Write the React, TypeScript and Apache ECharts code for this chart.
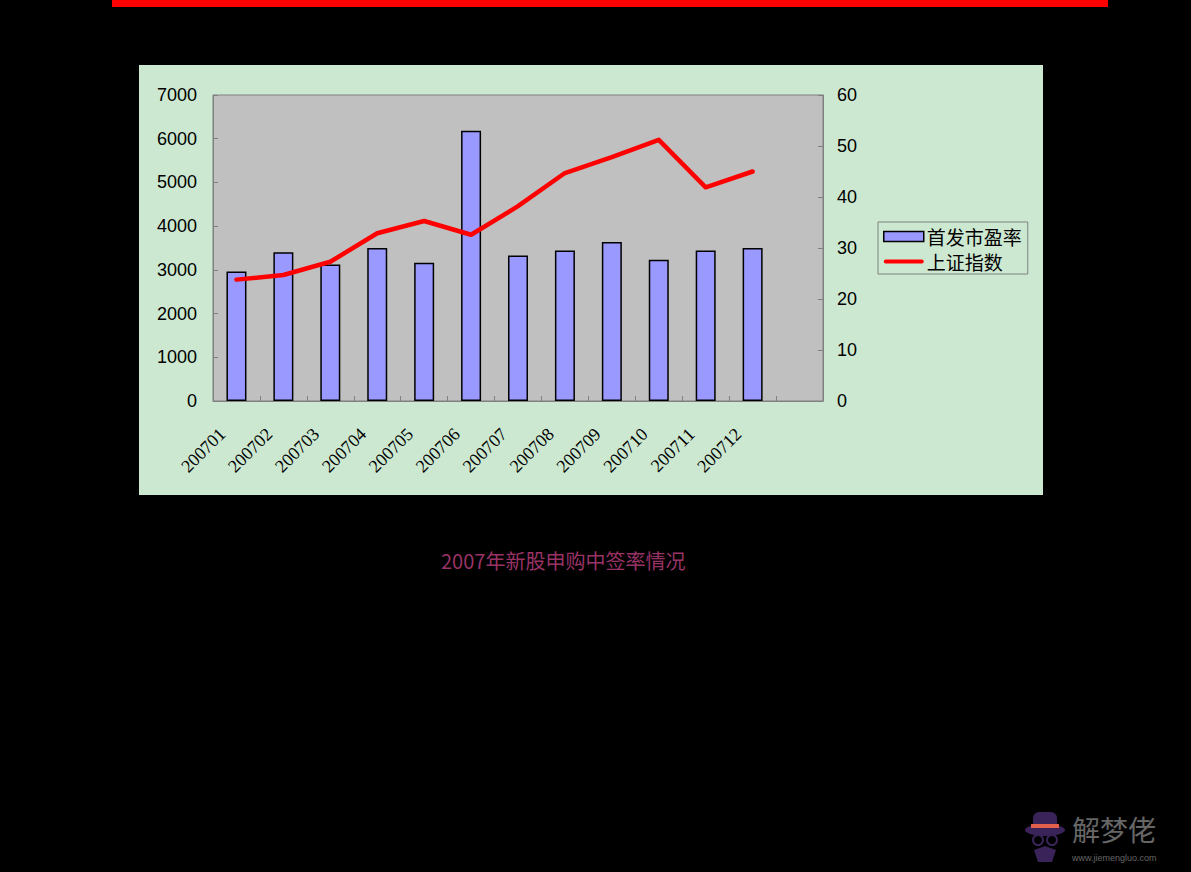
import React, { useEffect, useRef } from "react";
import * as echarts from "echarts";

const categories = ["200701", "200702", "200703", "200704", "200705", "200706", "200707", "200708", "200709", "200710", "200711", "200712", ""];
const peValues = [2960, 3400, 3120, 3500, 3160, 6180, 3330, 3440, 3640, 3230, 3440, 3500];
const indexValues = [23.8, 24.7, 27.3, 32.9, 35.3, 32.6, 38.2, 44.7, 47.8, 51.2, 41.9, 45.0];
const leftTicks = { min: 0, max: 7000, interval: 1000 };
const rightTicks = { min: 0, max: 60, interval: 10 };
const seriesNames = ["首发市盈率", "上证指数"];
const title = "2007年新股申购中签率情况";
const brand = "解梦佬";
const brandUrl = "www.jiemengluo.com";

export default function App() {
  const ref = useRef<HTMLDivElement>(null);
  useEffect(() => {
    document.body.style.margin = "0";
    document.body.style.background = "#000";
    const chart = echarts.init(ref.current!, null, { renderer: "svg" });
    chart.setOption({
      animation: false,
      backgroundColor: "#000000",
      graphic: [
        { type: "rect", shape: { x: 112, y: 0, width: 996, height: 7 }, style: { fill: "#FF0000" }, z: -10 },
        { type: "rect", shape: { x: 139, y: 65, width: 904, height: 430 }, style: { fill: "#CCE8D0" }, z: -10 },
        {
          type: "text", left: 441, top: 550,
          style: { text: title, fill: "#993366", font: '20px "Noto Sans CJK SC", "Liberation Serif"' },
        },
        // watermark logo
        { type: "ellipse", shape: { cx: 1045, cy: 830, rx: 20, ry: 6 }, style: { fill: "#3A2358" } },
        { type: "rect", shape: { x: 1033, y: 812, width: 24, height: 18, r: [6, 6, 0, 0] }, style: { fill: "#3A2358" } },
        { type: "rect", shape: { x: 1031, y: 824, width: 28, height: 4 }, style: { fill: "#E0604A" } },
        { type: "circle", shape: { cx: 1038, cy: 840, r: 5 }, style: { fill: "none", stroke: "#3A2358", lineWidth: 2 } },
        { type: "circle", shape: { cx: 1052, cy: 840, r: 5 }, style: { fill: "none", stroke: "#3A2358", lineWidth: 2 } },
        { type: "polygon", shape: { points: [[1034, 850], [1045, 846], [1056, 850], [1052, 862], [1038, 862]] }, style: { fill: "#3A2358" } },
        {
          type: "text", left: 1072, top: 815,
          style: { text: brand, fill: "#666666", font: '28px "Noto Sans CJK SC"' },
        },
        {
          type: "text", left: 1072, top: 853,
          style: { text: brandUrl, fill: "#666666", font: '9px "Liberation Sans"' },
        },
      ],
      grid: {
        left: 213, top: 95, width: 610, height: 306,
        show: true, backgroundColor: "#C0C0C0", borderColor: "#808080", borderWidth: 1,
        containLabel: false,
      },
      legend: {
        orient: "vertical", left: 878, top: 222,
        itemWidth: 40, itemHeight: 10, itemGap: 6,
        padding: [5, 6, 3, 5],
        borderColor: "#808080", borderWidth: 1,
        textStyle: { color: "#000", fontSize: 19, fontFamily: '"Noto Sans CJK SC"', padding: [0, 0, 0, -2] },
        data: [
          { name: seriesNames[0], icon: "rect", itemStyle: { color: "#9999FF", borderColor: "#000", borderWidth: 1.5 } },
          { name: seriesNames[1], icon: "path://M2,0 L38,0 Q40,0 40,2 Q40,4 38,4 L2,4 Q0,4 0,2 Q0,0 2,0 Z", itemStyle: { color: "#FF0000", borderWidth: 0 } },
        ],
      },
      xAxis: {
        type: "category",
        data: categories,
        boundaryGap: true,
        axisLine: { show: true, lineStyle: { color: "#808080", width: 1 } },
        axisTick: { show: true, inside: true, length: 5, lineStyle: { color: "#808080" } },
        axisLabel: {
          interval: 0, rotate: 45, color: "#000", fontSize: 18, fontFamily: '"Liberation Serif"', margin: 16,
          padding: [0, 20, 0, 0],
        },
        splitLine: { show: false },
      },
      yAxis: [
        {
          type: "value", ...leftTicks, position: "left",
          axisLine: { show: true, lineStyle: { color: "#808080" } },
          axisTick: { show: true, inside: true, length: 5, lineStyle: { color: "#808080" } },
          axisLabel: { color: "#000", fontSize: 18, fontFamily: '"Liberation Sans"', margin: 16, formatter: (v: number) => String(v) },
          splitLine: { show: false },
        },
        {
          type: "value", ...rightTicks, position: "right",
          axisLine: { show: true, lineStyle: { color: "#808080" } },
          axisTick: { show: true, inside: true, length: 5, lineStyle: { color: "#808080" } },
          axisLabel: { color: "#000", fontSize: 18, fontFamily: '"Liberation Sans"', margin: 14, formatter: (v: number) => String(v) },
          splitLine: { show: false },
        },
      ],
      series: [
        {
          name: seriesNames[0], type: "bar", data: peValues, yAxisIndex: 0,
          barWidth: 20,
          itemStyle: { color: "#9999FF", borderColor: "#000000", borderWidth: 1.5 },
        },
        {
          name: seriesNames[1], type: "line", data: indexValues, yAxisIndex: 1,
          symbol: "none", showSymbol: false,
          lineStyle: { color: "#FF0000", width: 4.5, cap: "round", join: "round" },
          itemStyle: { color: "#FF0000" },
        },
      ],
    });
    return () => chart.dispose();
  }, []);
  return <div ref={ref} style={{ width: 1191, height: 872 }} />;
}
